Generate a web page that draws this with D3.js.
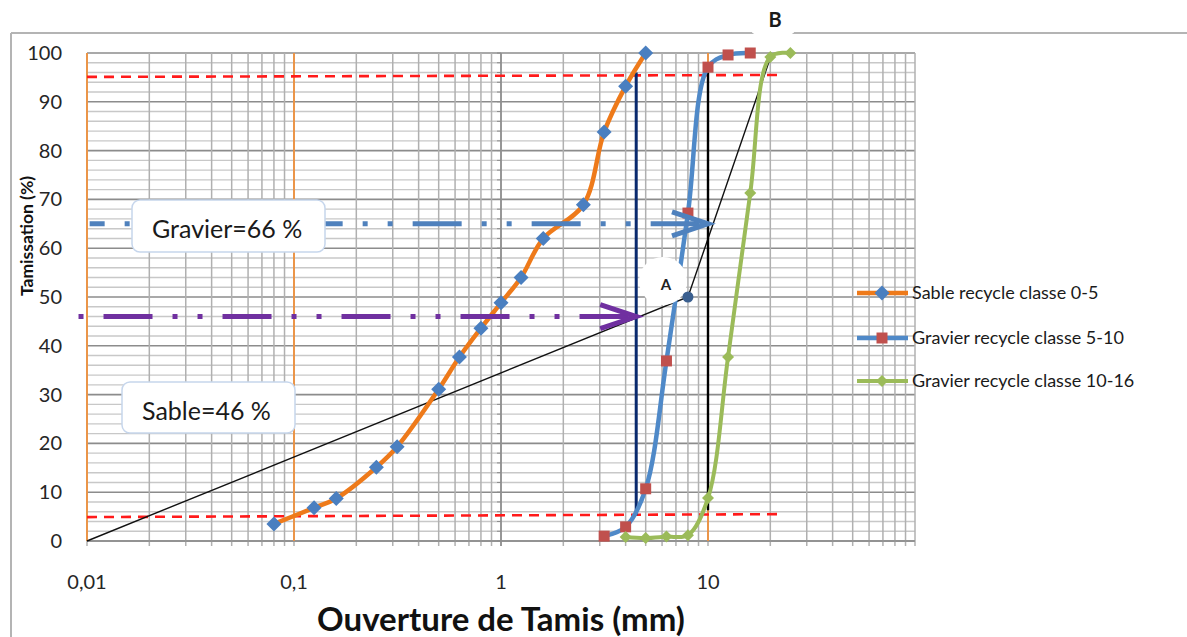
<!DOCTYPE html>
<html>
<head>
<meta charset="utf-8">
<script src="https://cdn.jsdelivr.net/npm/d3@7.9.0/dist/d3.min.js"></script>
<style>
  body { margin: 0; background: #fff; }
  svg { display: block; font-family: Lato, "Open Sans", sans-serif; }
</style>
</head>
<body>
<svg id="chart" width="1187" height="637"></svg>
<script>
// Sieve openings (mm) and passing (%) for each material
const sableX = [0.08, 0.125, 0.16, 0.25, 0.315, 0.5, 0.63, 0.8, 1, 1.25, 1.6, 2.5, 3.15, 4, 5];
const sableY = [3.5, 6.8, 8.7, 15.1, 19.3, 31.1, 37.7, 43.6, 48.8, 54.0, 62.0, 68.9, 83.8, 93.2, 100];

const grav510X = [3.15, 4, 5, 6.3, 8, 10, 12.5, 16];
const grav510Y = [1.0, 2.9, 10.7, 36.9, 67.2, 97.1, 99.6, 100];

const grav1016X = [4, 5, 6.3, 8, 10, 12.5, 16, 20, 25];
const grav1016Y = [0.8, 0.6, 0.9, 1.2, 8.8, 37.7, 71.3, 99.2, 100];

const seriesNames = ['Sable recycle classe 0-5', 'Gravier recycle classe 5-10', 'Gravier recycle classe 10-16'];

// Construction lines (Dreux-Gorisse style)
const brokenX = [0.01, 8, 20];
const brokenY = [0, 50, 99];
const limitTopY = [95.1, 95.5];
const limitBottomY = [4.9, 5.5];
const limitX = [0.01, 22];
const navyX = 4.5, navyY = [96, 5.3];
const blackX = 10, blackY = [96, 6.3];
const orangeRefX = [0.01, 0.1, 10];

// Arrows and boxes
const gravierArrowX = [0.0103, 10], gravierArrowY = 65;
const sableArrowX = [0.0091, 4.5], sableArrowY = 46;
const pointA = [8, 50];

const xTicks = [0.01, 0.1, 1, 10];
const xTickLabels = ['0,01', '0,1', '1', '10'];
const yTicks = d3.range(0, 101, 10);

const svg = d3.select('#chart');

const x = d3.scaleLog().domain([0.01, 100]).range([87, 915]);
const y = d3.scaleLinear().domain([0, 100]).range([541, 53]);

// chart area frame
svg.append('rect').attr('width', 1187).attr('height', 637).attr('fill', '#fff');
svg.append('line').attr('x1', 11).attr('x2', 1187).attr('y1', 33).attr('y2', 33)
    .attr('stroke', '#b4b4b4').attr('stroke-width', 2);
svg.append('line').attr('x1', 11).attr('x2', 11).attr('y1', 33).attr('y2', 637)
    .attr('stroke', '#b4b4b4').attr('stroke-width', 2);

// Grid
let grid = svg.append('g');
let minorX = [];
[0.01, 0.1, 1, 10].forEach((d) => {
    for (let k = 1; k <= 9; k++) minorX.push(d * k);
});
minorX.push(100);

d3.range(0, 101, 2).forEach((v) => {
    grid.append('line')
        .attr('x1', x(0.01)).attr('x2', x(100))
        .attr('y1', y(v)).attr('y2', y(v))
        .attr('stroke', v % 10 === 0 ? '#8c8c8c' : '#c8c8c8')
        .attr('stroke-width', v % 10 === 0 ? 1.6 : 1.4);
});
minorX.forEach((v) => {
    grid.append('line')
        .attr('x1', x(v)).attr('x2', x(v))
        .attr('y1', y(100)).attr('y2', y(0) + 5)
        .attr('stroke', '#b0b0b0')
        .attr('stroke-width', 1.5);
});

// vertical axis line at x = 1 with small ticks
grid.append('line')
    .attr('x1', x(1)).attr('x2', x(1)).attr('y1', y(100)).attr('y2', y(0) + 5)
    .attr('stroke', '#8c8c8c').attr('stroke-width', 1.6);
d3.range(0, 101, 2).forEach((v) => {
    grid.append('line')
        .attr('x1', x(1) - 4).attr('x2', x(1))
        .attr('y1', y(v)).attr('y2', y(v))
        .attr('stroke', '#8c8c8c').attr('stroke-width', 1);
});
grid.append('line')
    .attr('x1', x(0.01)).attr('x2', x(100)).attr('y1', y(0)).attr('y2', y(0))
    .attr('stroke', '#8c8c8c').attr('stroke-width', 1.6);

// Orange reference verticals
orangeRefX.forEach((v) => {
    svg.append('line')
        .attr('x1', x(v)).attr('x2', x(v)).attr('y1', y(100)).attr('y2', y(0))
        .attr('stroke', '#f0913c').attr('stroke-width', 1.8);
});

// Red dashed limit lines
[limitTopY, limitBottomY].forEach((ys) => {
    svg.append('line')
        .attr('x1', x(limitX[0])).attr('x2', x(limitX[1]))
        .attr('y1', y(ys[0])).attr('y2', y(ys[1]))
        .attr('stroke', '#ff1a1a').attr('stroke-width', 2.6)
        .attr('stroke-dasharray', '10,7');
});

// Broken line O-A-B
const plain = d3.line().x((d) => x(d[0])).y((d) => y(d[1]));
svg.append('path')
    .attr('d', plain(d3.zip(brokenX, brokenY)))
    .attr('fill', 'none').attr('stroke', '#111').attr('stroke-width', 1.4);

svg.append('line')
    .attr('x1', x(navyX)).attr('x2', x(navyX)).attr('y1', y(navyY[0])).attr('y2', y(navyY[1]))
    .attr('stroke', '#0a2a6e').attr('stroke-width', 3);
svg.append('line')
    .attr('x1', x(blackX)).attr('x2', x(blackX)).attr('y1', y(blackY[0])).attr('y2', y(blackY[1]))
    .attr('stroke', '#000').attr('stroke-width', 2.4);

// Series
const smooth = d3.line().x((d) => x(d[0])).y((d) => y(d[1])).curve(d3.curveCatmullRom.alpha(0.5));
const diamond = (r) => `M0,${-r}L${r},0L0,${r}L${-r},0Z`;

const series = [
    { xs: sableX, ys: sableY, line: '#ee7a1a', width: 4.5, marker: diamond(7.5), fill: '#4a7fc0' },
    { xs: grav510X, ys: grav510Y, line: '#4f89c8', width: 4.5, marker: 'M-5.5,-5.5h11v11h-11Z', fill: '#c0504d' },
    { xs: grav1016X, ys: grav1016Y, line: '#9bbb59', width: 4, marker: diamond(6), fill: '#9bbb59' },
];

series.forEach((s) => {
    let pts = d3.zip(s.xs, s.ys);
    svg.append('path')
        .attr('d', smooth(pts))
        .attr('fill', 'none').attr('stroke', s.line).attr('stroke-width', s.width)
        .attr('stroke-linejoin', 'round').attr('stroke-linecap', 'round');
    svg.append('g').selectAll('path').data(pts).join('path')
        .attr('d', s.marker)
        .attr('transform', (d) => `translate(${x(d[0])},${y(d[1])})`)
        .attr('fill', s.fill);
});

// Dash-dot-dot arrows
function drawArrow(xs, yv, color, offset) {
    svg.append('line')
        .attr('x1', x(xs[0])).attr('x2', x(xs[1]))
        .attr('y1', y(yv)).attr('y2', y(yv))
        .attr('stroke', color).attr('stroke-width', 5)
        .attr('stroke-dasharray', '49,20,5,20,5,20')
        .attr('stroke-dashoffset', offset);
    let tx = x(xs[1]), ty = y(yv);
    svg.append('path')
        .attr('d', `M${tx - 36},${ty - 12}L${tx},${ty}L${tx - 36},${ty + 12}`)
        .attr('fill', 'none').attr('stroke', color).attr('stroke-width', 5)
        .attr('stroke-linejoin', 'miter');
}
drawArrow(gravierArrowX, gravierArrowY, '#4f81bd', 34);
drawArrow(sableArrowX, sableArrowY, '#7030a0', 94);

// Text boxes
function textBox(bx, by, bw, bh, label, tx, ty) {
    svg.append('rect')
        .attr('x', bx).attr('y', by).attr('width', bw).attr('height', bh)
        .attr('rx', 8).attr('fill', '#fff')
        .attr('stroke', '#c6d6ec').attr('stroke-width', 1.5);
    svg.append('text')
        .attr('x', tx).attr('y', ty)
        .attr('font-size', 25).attr('fill', '#1a1a1a')
        .text(label);
}
textBox(132, 200, 193, 52, 'Gravier=66 %', 152, 238);
textBox(122, 382, 173, 51, 'Sable=46 %', 142, 420);

// Point A
svg.append('circle').attr('cx', 663).attr('cy', 281).attr('r', 24).attr('fill', '#fff');
svg.append('text').attr('x', 666).attr('y', 290).attr('text-anchor', 'middle')
    .attr('font-size', 15).attr('font-weight', 'bold').attr('fill', '#222').text('A');
svg.append('circle').attr('cx', x(pointA[0])).attr('cy', y(pointA[1])).attr('r', 5.5)
    .attr('fill', '#3a5f8f');

// Point B bubble
svg.append('rect').attr('x', 750).attr('y', 1).attr('width', 46).attr('height', 34)
    .attr('rx', 8).attr('fill', '#fff');
svg.append('text').attr('x', 775).attr('y', 27).attr('text-anchor', 'middle')
    .attr('font-size', 20).attr('font-weight', 'bold').attr('fill', '#1a1a1a').text('B');

// Axes labels
svg.append('g').selectAll('text').data(yTicks).join('text')
    .attr('x', 62).attr('y', (d) => y(d) + 7)
    .attr('text-anchor', 'end').attr('font-size', 20).attr('fill', '#262626')
    .text((d) => d);

svg.append('g').selectAll('text').data(xTicks).join('text')
    .attr('x', (d) => x(d)).attr('y', 589)
    .attr('text-anchor', 'middle').attr('font-size', 20).attr('fill', '#262626')
    .text((d, i) => xTickLabels[i]);

svg.append('text')
    .attr('x', 501).attr('y', 631).attr('text-anchor', 'middle')
    .attr('font-size', 33).attr('font-weight', 'bold').attr('fill', '#111')
    .text('Ouverture de Tamis (mm)');

svg.append('text')
    .attr('transform', 'translate(33,236) rotate(-90)')
    .attr('text-anchor', 'middle')
    .attr('font-size', 17.5).attr('font-weight', 'bold').attr('fill', '#111')
    .text('Tamissation (%)');

// Legend
const legendY = [293, 338, 381];
series.forEach((s, i) => {
    let g = svg.append('g').attr('transform', `translate(857,${legendY[i]})`);
    g.append('line').attr('x1', 0).attr('x2', 51).attr('stroke', s.line).attr('stroke-width', s.width);
    g.append('path').attr('d', s.marker).attr('transform', 'translate(25,0)').attr('fill', s.fill);
    g.append('text').attr('x', 55).attr('y', 6).attr('font-size', 18).attr('fill', '#1a1a1a')
        .text(seriesNames[i]);
});
</script>
</body>
</html>
